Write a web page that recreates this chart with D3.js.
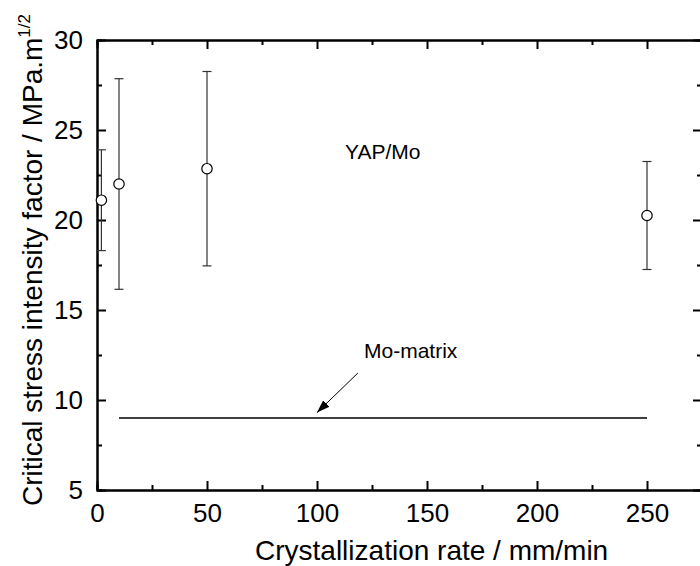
<!DOCTYPE html>
<html>
<head>
<meta charset="utf-8">
<script src="https://cdn.jsdelivr.net/npm/d3@7/dist/d3.min.js"></script>
<style>
  body { margin: 0; background: #fff; }
  svg { display: block; font-family: "Liberation Sans", Arial, sans-serif; }
  .axis path, .axis line { stroke: #000; }
</style>
</head>
<body>
<div id="chart"></div>
<script>
// data
const rates = [2, 10, 50, 250];            // mm/min
const kic = [21.1, 22.0, 22.85, 20.25];    // MPa.m^1/2
const kicErr = [2.8, 5.85, 5.4, 3.0];
const matrixRate = [10, 250];
const matrixKic = [9, 9];
const xMajor = [0, 50, 100, 150, 200, 250];
const xMinor = [25, 75, 125, 175, 225, 275];
const yMajor = [5, 10, 15, 20, 25, 30];
const yMinor = [7.5, 12.5, 17.5, 22.5, 27.5];
const arrowFrom = [118.6, 11.5];
const arrowTo = [100, 9.3];

const W = 700, H = 566;
const margin = { top: 40, right: -2, bottom: 76, left: 97 };
const width = W - margin.left - margin.right;
const height = H - margin.top - margin.bottom;

const svg = d3.select('#chart').append('svg')
  .attr('width', W)
  .attr('height', H);

const g = svg.append('g')
  .attr('transform', 'translate(' + margin.left + ',' + margin.top + ')');

const x = d3.scaleLinear().domain([0, 275]).range([0, width]);
const y = d3.scaleLinear().domain([5, 30]).range([height, 0]);

svg.append('defs').append('marker')
  .attr('id', 'arrow')
  .attr('viewBox', '0 0 10 10')
  .attr('refX', 10).attr('refY', 5)
  .attr('markerWidth', 13).attr('markerHeight', 13)
  .attr('markerUnits', 'userSpaceOnUse')
  .attr('orient', 'auto')
  .append('path')
  .attr('d', 'M0,1.5L10,5L0,8.5Z')
  .attr('fill', '#000');

// axes, ticks pointing inward
function styleAxis(sel) {
  sel.select('.domain').attr('stroke-width', 2);
  sel.selectAll('.tick line').attr('stroke-width', 2);
}

g.append('g').attr('class', 'axis')
  .attr('transform', 'translate(0,' + height + ')')
  .call(d3.axisBottom(x).tickValues(xMajor).tickSizeInner(-9).tickSizeOuter(0))
  .call(styleAxis)
  .call(a => a.selectAll('text').attr('y', 32).attr('dy', null)
    .attr('font-size', 26).attr('fill', '#000').attr('font-family', null));

g.append('g').attr('class', 'axis')
  .attr('transform', 'translate(0,' + height + ')')
  .call(d3.axisBottom(x).tickValues(xMinor).tickSize(-5).tickFormat(''))
  .call(styleAxis);

g.append('g').attr('class', 'axis')
  .call(d3.axisTop(x).tickValues(xMajor).tickSizeInner(-9).tickSizeOuter(0).tickFormat(''))
  .call(styleAxis);

g.append('g').attr('class', 'axis')
  .call(d3.axisTop(x).tickValues(xMinor).tickSize(-5).tickFormat(''))
  .call(styleAxis);

g.append('g').attr('class', 'axis')
  .call(d3.axisLeft(y).tickValues(yMajor).tickSizeInner(-9).tickSizeOuter(0))
  .call(styleAxis)
  .call(a => a.selectAll('text').attr('x', -14)
    .attr('font-size', 26).attr('fill', '#000').attr('font-family', null));

g.append('g').attr('class', 'axis')
  .call(d3.axisLeft(y).tickValues(yMinor).tickSize(-5).tickFormat(''))
  .call(styleAxis);

g.append('g').attr('class', 'axis')
  .attr('transform', 'translate(' + width + ',0)')
  .call(d3.axisRight(y).tickValues(yMajor).tickSizeInner(-9).tickSizeOuter(0).tickFormat(''))
  .call(styleAxis);

g.append('g').attr('class', 'axis')
  .attr('transform', 'translate(' + width + ',0)')
  .call(d3.axisRight(y).tickValues(yMinor).tickSize(-5).tickFormat(''))
  .call(styleAxis);

// axis titles
svg.append('text')
  .attr('x', 255).attr('y', 560)
  .attr('font-size', 28)
  .text('Crystallization rate / mm/min');

const yl = svg.append('text')
  .attr('transform', 'translate(42,506) rotate(-90)')
  .attr('font-size', 28);
yl.append('tspan').text('Critical stress intensity factor / MPa.m');
yl.append('tspan').attr('font-size', 17).attr('dy', -12).text('1/2');

// Mo-matrix line
const matrix = matrixRate.map((r, i) => [r, matrixKic[i]]);
g.append('path')
  .datum(matrix)
  .attr('fill', 'none')
  .attr('stroke', '#000')
  .attr('stroke-width', 1.3)
  .attr('d', d3.line().x(d => x(d[0])).y(d => y(d[1])));

// arrow
g.append('line')
  .attr('x1', x(arrowFrom[0])).attr('y1', y(arrowFrom[1]))
  .attr('x2', x(arrowTo[0])).attr('y2', y(arrowTo[1]))
  .attr('stroke', '#000')
  .attr('stroke-width', 1)
  .attr('marker-end', 'url(#arrow)');

// error bars
const pts = rates.map((r, i) => ({ r: r, k: kic[i], e: kicErr[i] }));
const eb = g.append('g').selectAll('g')
  .data(pts)
  .enter().append('g')
  .attr('stroke', '#333')
  .attr('stroke-width', 1.2);

eb.append('line')
  .attr('x1', d => x(d.r)).attr('x2', d => x(d.r))
  .attr('y1', d => y(d.k + d.e)).attr('y2', d => y(d.k - d.e));
eb.append('line')
  .attr('x1', d => x(d.r) - 4.5).attr('x2', d => x(d.r) + 4.5)
  .attr('y1', d => y(d.k + d.e)).attr('y2', d => y(d.k + d.e));
eb.append('line')
  .attr('x1', d => x(d.r) - 4.5).attr('x2', d => x(d.r) + 4.5)
  .attr('y1', d => y(d.k - d.e)).attr('y2', d => y(d.k - d.e));

g.append('g').selectAll('circle')
  .data(pts)
  .enter().append('circle')
  .attr('cx', d => x(d.r))
  .attr('cy', d => y(d.k))
  .attr('r', 5.2)
  .attr('fill', '#fff')
  .attr('stroke', '#000')
  .attr('stroke-width', 1.2);

// annotations
svg.append('text')
  .attr('x', 345).attr('y', 159)
  .attr('font-size', 21)
  .text('YAP/Mo');

svg.append('text')
  .attr('x', 364).attr('y', 358)
  .attr('font-size', 21)
  .text('Mo-matrix');
</script>
</body>
</html>
